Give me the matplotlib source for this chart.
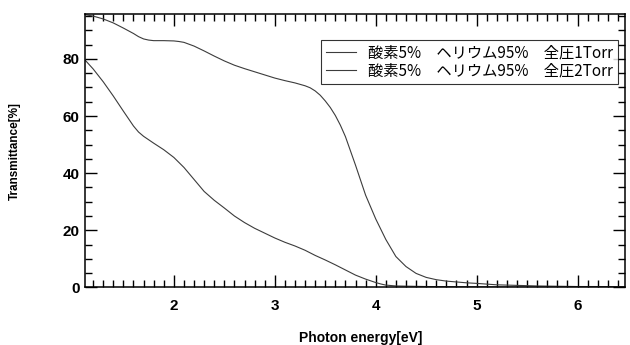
import matplotlib
matplotlib.use("Agg")
import matplotlib.pyplot as plt
from matplotlib.ticker import MultipleLocator

plt.rcParams['font.family'] = ['Liberation Sans', 'Noto Sans CJK JP', 'DejaVu Sans']

# 酸素5% ヘリウム95% 全圧1Torr (upper curve)
e_1torr = [1.12, 1.2, 1.3, 1.4, 1.5, 1.6, 1.65, 1.7, 1.75, 1.8, 1.9, 2.0, 2.05, 2.1,
           2.2, 2.3, 2.4, 2.5, 2.6, 2.7, 2.8, 2.9, 3.0, 3.1, 3.2, 3.3, 3.35, 3.4,
           3.45, 3.5, 3.55, 3.6, 3.65, 3.7, 3.8, 3.9, 4.0, 4.1, 4.2, 4.3, 4.4,
           4.5, 4.6, 4.7, 4.8, 4.9, 5.0, 5.2, 5.4, 5.6, 5.8, 6.0, 6.2, 6.47]
t_1torr = [95.5, 95.0, 94.0, 92.6, 90.8, 88.9, 87.8, 87.0, 86.6, 86.4, 86.4, 86.3,
           86.1, 85.8, 84.5, 82.8, 81.0, 79.3, 77.8, 76.6, 75.5, 74.4, 73.3, 72.4,
           71.6, 70.6, 69.9, 68.8, 67.3, 65.3, 63.0, 60.2, 56.8, 52.8, 42.8, 32.3,
           24.0, 16.8, 10.8, 7.3, 4.9, 3.5, 2.7, 2.2, 1.9, 1.6, 1.4, 0.9, 0.7,
           0.5, 0.4, 0.3, 0.3, 0.2]

# 酸素5% ヘリウム95% 全圧2Torr (lower curve)
e_2torr = [1.12, 1.2, 1.3, 1.4, 1.5, 1.6, 1.65, 1.7, 1.8, 1.9, 2.0, 2.1, 2.2, 2.3,
           2.4, 2.5, 2.6, 2.7, 2.8, 2.9, 3.0, 3.1, 3.2, 3.3, 3.4, 3.5, 3.6, 3.7,
           3.8, 3.9, 4.0, 4.05, 4.1, 4.2, 4.5, 5.0, 5.5, 6.47]
t_2torr = [79.6, 76.5, 72.0, 67.0, 61.7, 56.5, 54.4, 52.9, 50.5, 48.2, 45.5, 42.0,
           37.8, 33.6, 30.5, 27.8, 25.0, 22.7, 20.7, 19.0, 17.3, 15.8, 14.5, 13.0,
           11.2, 9.6, 7.9, 6.1, 4.3, 2.9, 1.7, 1.2, 0.8, 0.5, 0.3, 0.2, 0.1, 0.1]

labels = ["酸素5%\u3000ヘリウム95%\u3000全圧1Torr",
          "酸素5%\u3000ヘリウム95%\u3000全圧2Torr"]

fig = plt.figure(figsize=(6.3, 3.45), dpi=100)
ax = fig.add_axes([0.135, 0.167, 0.857, 0.793])

ax.plot(e_1torr, t_1torr, color='#3c3c3c', lw=0.8, label=labels[0])
ax.plot(e_2torr, t_2torr, color='#3c3c3c', lw=0.8, label=labels[1])

ax.set_xlim(1.12, 6.47)
ax.set_ylim(0, 95.8)
ax.xaxis.set_major_locator(MultipleLocator(1))
ax.xaxis.set_minor_locator(MultipleLocator(0.1))
ax.yaxis.set_major_locator(MultipleLocator(20))
ax.yaxis.set_minor_locator(MultipleLocator(5))

ax.tick_params(which='both', direction='in', top=True, right=True, width=1.0)
ax.tick_params(which='major', length=8.5)
ax.tick_params(which='minor', length=5)
ax.tick_params(axis='x', which='major', pad=8.5, labelsize=11)
ax.tick_params(axis='y', which='major', pad=4, labelsize=11)
for lab in ax.get_xticklabels() + ax.get_yticklabels():
    lab.set_fontweight('bold')
for sp in ax.spines.values():
    sp.set_linewidth(1.1)

ax.set_xlabel("Photon energy[eV]", fontsize=10, fontweight='bold')
ax.set_ylabel("Transmittance[%]", fontsize=8.5, fontweight='bold')
ax.xaxis.set_label_coords(0.51, -0.16)
ax.yaxis.set_label_coords(-0.118, 0.5)

leg = ax.legend(loc='upper right', bbox_to_anchor=(0.987, 0.905), fontsize=11,
                frameon=True, fancybox=False, handlelength=2.0, handletextpad=0.8,
                borderpad=0.3, labelspacing=0.05, borderaxespad=0)
leg.get_frame().set_edgecolor('black')
leg.get_frame().set_linewidth(0.8)
for t in leg.get_texts():
    t.set_family(['Noto Sans CJK JP', 'DejaVu Sans'])

fig.savefig("out.png", dpi=100)
